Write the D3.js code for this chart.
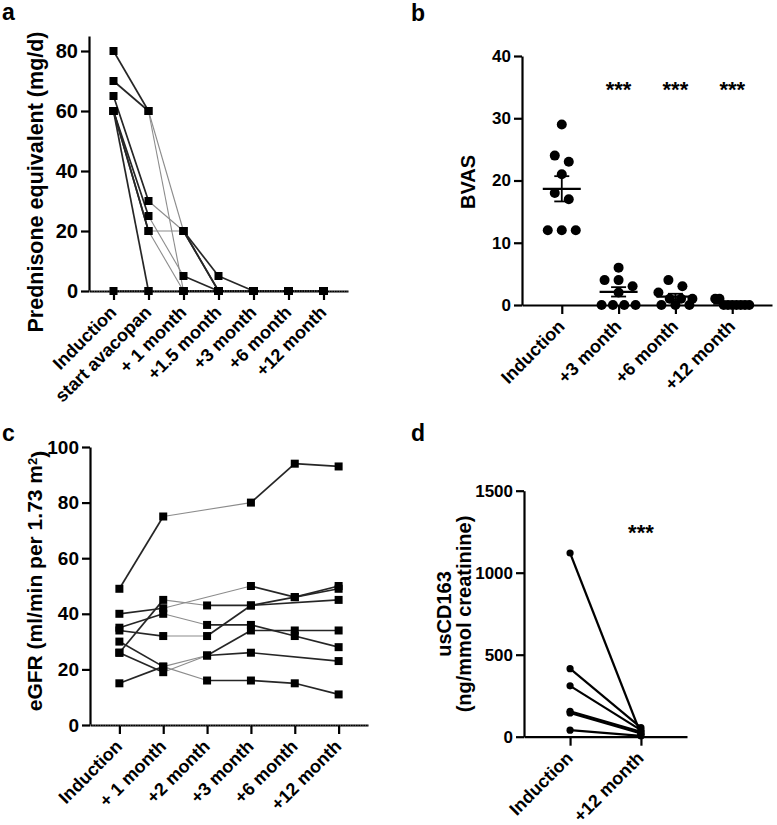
<!DOCTYPE html>
<html><head><meta charset="utf-8">
<script src="https://cdn.jsdelivr.net/npm/d3@7"></script>
<style>
body{margin:0;background:#fff;}
svg{display:block;}
text{font-family:"Liberation Sans",Arial,sans-serif;fill:#000;}
</style></head><body>
<svg id="chart" width="777" height="825"></svg>
<script>
// ---------- Panel a: prednisone equivalent ----------
const predCategories = ["Induction","start avacopan","+ 1 month","+1.5 month","+3 month","+6 month","+12 month"];
const predTicks = [0,20,40,60,80];
const predP1 = [80,60,20,5,0,0,0];
const predP2 = [70,60,0,0,0,0,0];
const predP3 = [65,30,20,0,0,0,0];
const predP4 = [60,25,5,0,0,0,0];
const predP5 = [60,20,20,0,0,0,0];
const predP6 = [60,20,0,0,0,0,0];
const predP7 = [60,0,0,0,0,0,0];
const predP8 = [0,0,0,0,0,0,0];

// ---------- Panel b: BVAS ----------
const bvasCategories = ["Induction","+3 month","+6 month","+12 month"];
const bvasTicks = [0,10,20,30,40];
const bvasInduction = [29,24,23,21,18,17,12,12,12];
const bvas3m = [6,4,4,3,2,0,0,0,0];
const bvas6m = [4,3,2,1,1,1,0,0,0];
const bvas12m = [1,1,0,0,0,0,0,0,0];
const bvasSignificance = ["","***","***","***"];

// ---------- Panel c: eGFR ----------
const egfrCategories = ["Induction","+ 1 month","+2 month","+3 month","+6 month","+12 month"];
const egfrTicks = [0,20,40,60,80,100];
const egfrP1 = [49,75,null,80,94,93];
const egfrP2 = [40,42,null,50,46,50];
const egfrP3 = [35,40,36,36,32,28];
const egfrP4 = [34,32,32,43,46,49];
const egfrP5 = [30,21,16,16,15,11];
const egfrP6 = [26,19,25,26,null,23];
const egfrP7 = [15,21,25,34,34,34];
const egfrP8 = [26,45,43,43,null,45];

// ---------- Panel d: usCD163 ----------
const cdCategories = ["Induction","+12 month"];
const cdTicks = [0,500,1000,1500];
const cdInduction = [1120,415,310,155,145,40];
const cdMonth12 = [15,55,40,30,20,5];
const cdSignificance = ["","***"];

// ================= drawing =================
const svg = d3.select("#chart");

function yAxis(g, y, x0, ticks, fs){
  const ax = g.append("g").attr("transform",`translate(${x0},0)`)
    .call(d3.axisLeft(y).tickValues(ticks).tickFormat(d3.format("d")).tickSize(8).tickSizeOuter(0).tickPadding(3));
  ax.attr("font-family",null).attr("font-size",null);
  ax.select(".domain").attr("stroke","#000").attr("stroke-width",2.2);
  ax.selectAll(".tick line").attr("stroke","#000").attr("stroke-width",2.2);
  ax.selectAll(".tick text").style("font-size",fs+"px").style("font-weight","bold");
  return ax;
}
function xAxis(g, x, y0, fs, hatched){
  const ax = g.append("g").attr("transform",`translate(0,${y0})`)
    .call(d3.axisBottom(x).tickSize(9).tickSizeOuter(0));
  ax.attr("font-family",null).attr("font-size",null);
  ax.select(".domain").attr("stroke","#000").attr("stroke-width",2.2);
  ax.selectAll(".tick line").attr("stroke","#000").attr("stroke-width",2.2);
  ax.selectAll(".tick text")
    .attr("x",0).attr("y",0).attr("dy","0.35em")
    .attr("transform","translate(-1,18) rotate(-45)")
    .style("text-anchor","end").style("font-size",fs+"px").style("font-weight","bold");
  if(hatched){
    const r = x.range();
    ax.append("line").attr("x1",r[0]).attr("x2",r[1]).attr("y1",0).attr("y2",0)
      .attr("stroke","#aaa").attr("stroke-width",0.8).attr("stroke-dasharray","1,1.5");
  }
  return ax;
}
function yTitle(g, cx, cy, fs){
  return g.append("text").attr("transform",`translate(${cx},${cy}) rotate(-90)`)
    .attr("text-anchor","middle").attr("dy","0.35em")
    .style("font-size",fs+"px").style("font-weight","bold");
}
function panelLetter(txt,x,y){
  svg.append("text").attr("x",x).attr("y",y).text(txt)
    .style("font-size","23px").style("font-weight","bold");
}
function drawSeriesLines(g, x, y, cats, seriesList){
  seriesList.forEach(s=>{
    const pts = s.map((v,i)=>({v,i})).filter(p=>p.v!=null);
    for(let k=0;k<pts.length-1;k++){
      const a=pts[k], b=pts[k+1];
      const light = a.i===1;
      g.append("line")
        .attr("x1",x(cats[a.i])).attr("y1",y(a.v))
        .attr("x2",x(cats[b.i])).attr("y2",y(b.v))
        .attr("stroke", light ? "#8c8c8c" : "#262626")
        .attr("stroke-width", light ? 1.1 : 1.7);
    }
  });
}
function drawSquares(g, x, y, cats, seriesList){
  seriesList.forEach(s=>s.forEach((v,i)=>{
    if(v==null) return;
    g.append("rect").attr("x",x(cats[i])-4).attr("y",y(v)-4)
      .attr("width",8).attr("height",8).attr("fill","#000");
  }));
}

// ----- Panel a -----
{
  const g = svg.append("g");
  const x = d3.scalePoint().domain(predCategories).range([89,348]).padding(0.7);
  const y = d3.scaleLinear().domain([0,85]).range([291,36]);
  const series = [predP1,predP2,predP3,predP4,predP5,predP6,predP7,predP8];
  drawSeriesLines(g, x, y, predCategories, series);
  yAxis(g, y, 89, predTicks, 20);
  xAxis(g, x, 291, 18, true);
  drawSquares(g, x, y, predCategories, series);
  yTitle(g,35,182,21.5).text("Prednisone equivalent (mg/d)");
  panelLetter("a",2,20);
}

// ----- Panel b -----
{
  const g = svg.append("g");
  const x = d3.scalePoint().domain(bvasCategories).range([522,772]).padding(0.7);
  const y = d3.scaleLinear().domain([0,40]).range([305,56]);
  const groups = [bvasInduction,bvas3m,bvas6m,bvas12m];
  yAxis(g, y, 522, bvasTicks, 17);
  xAxis(g, x, 305, 18, false);
  function swarm(vals){
    const idx = vals.map((v,i)=>i).sort((a,b)=>vals[b]-vals[a]);
    const rows=[]; let cur=null;
    idx.forEach(i=>{
      if(!cur || Math.abs(y(vals[i])-y(vals[cur[0]]))>7){ cur=[i]; rows.push(cur);} else cur.push(i);
    });
    const off = new Array(vals.length).fill(0);
    rows.forEach(r=>{
      const n=r.length; const s = n>1 ? Math.min(14, 34/(n-1)) : 0;
      r.forEach((i,k)=>off[i]=(k-(n-1)/2)*s);
    });
    return off;
  }
  groups.forEach((vals,gi)=>{
    const cx = x(bvasCategories[gi]);
    const off = swarm(vals);
    vals.forEach((v,i)=>{
      g.append("circle").attr("cx",cx+off[i]).attr("cy",y(v)).attr("r",5).attr("fill","#000");
    });
    const m = d3.mean(vals), sem = d3.deviation(vals)/Math.sqrt(vals.length);
    const lo = Math.max(0,m-sem), hi = m+sem;
    g.append("line").attr("x1",cx-19).attr("x2",cx+19).attr("y1",y(m)).attr("y2",y(m)).attr("stroke","#000").attr("stroke-width",2.2);
    g.append("line").attr("x1",cx).attr("x2",cx).attr("y1",y(hi)).attr("y2",y(lo)).attr("stroke","#000").attr("stroke-width",1.8);
    [hi,lo].forEach(v=>g.append("line").attr("x1",cx-7.5).attr("x2",cx+7.5).attr("y1",y(v)).attr("y2",y(v)).attr("stroke","#000").attr("stroke-width",1.8));
    if(bvasSignificance[gi]) g.append("text").attr("x",cx).attr("y",97).attr("text-anchor","middle")
      .style("font-size","22px").style("font-weight","bold").text(bvasSignificance[gi]);
  });
  yTitle(g,468,182,20).text("BVAS");
  panelLetter("b",411,21);
}

// ----- Panel c -----
{
  const g = svg.append("g");
  const x = d3.scalePoint().domain(egfrCategories).range([90,368]).padding(0.67);
  const y = d3.scaleLinear().domain([0,100]).range([725,447]);
  const series = [egfrP1,egfrP2,egfrP3,egfrP4,egfrP5,egfrP6,egfrP7,egfrP8];
  drawSeriesLines(g, x, y, egfrCategories, series);
  yAxis(g, y, 90, egfrTicks, 19);
  xAxis(g, x, 725, 18, true);
  drawSquares(g, x, y, egfrCategories, series);
  const t = yTitle(g,35,581,21);
  t.append("tspan").text("eGFR (ml/min per 1.73 m");
  t.append("tspan").attr("dy","-0.45em").style("font-size","13px").text("2");
  t.append("tspan").attr("dy","0.45em").text(")");
  panelLetter("c",2,441);
}

// ----- Panel d -----
{
  const g = svg.append("g");
  const x = d3.scalePoint().domain(cdCategories).range([524,687]).padding(0.65);
  const y = d3.scaleLinear().domain([0,1500]).range([736.7,490.7]);
  cdInduction.forEach((v,i)=>{
    g.append("line").attr("x1",x(cdCategories[0])).attr("y1",y(v))
      .attr("x2",x(cdCategories[1])).attr("y2",y(cdMonth12[i]))
      .attr("stroke","#000").attr("stroke-width",2.2);
  });
  [cdInduction,cdMonth12].forEach((vals,gi)=>vals.forEach(v=>{
    g.append("circle").attr("cx",x(cdCategories[gi])).attr("cy",y(v)).attr("r",3.6).attr("fill","#000");
  }));
  yAxis(g, y, 524, cdTicks, 17);
  xAxis(g, x, 736.7, 18, false);
  cdSignificance.forEach((s,i)=>{ if(s) g.append("text").attr("x",x(cdCategories[i])).attr("y",540)
    .attr("text-anchor","middle").style("font-size","22px").style("font-weight","bold").text(s); });
  yTitle(g,444,614,20).text("usCD163");
  yTitle(g,464,614,20).text("(ng/mmol creatinine)");
  panelLetter("d",411,441);
}
</script>
</body></html>
